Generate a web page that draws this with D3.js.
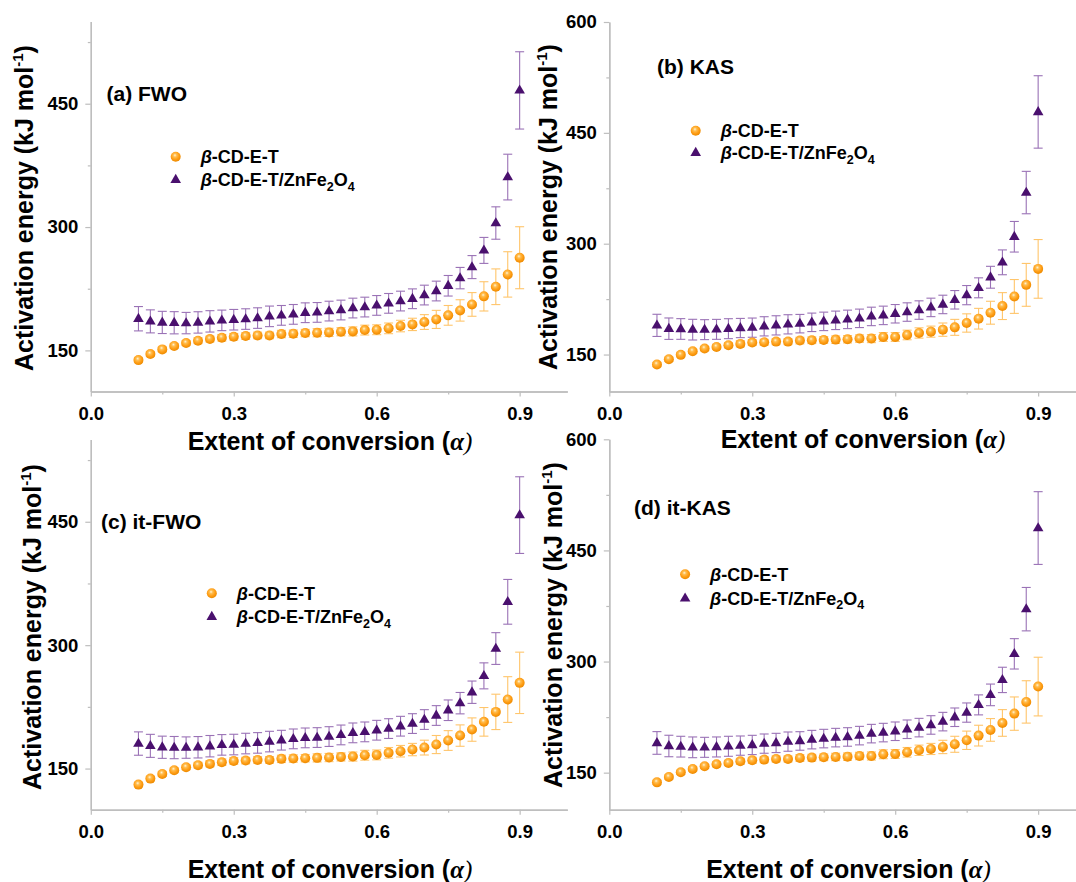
<!DOCTYPE html>
<html>
<head>
<meta charset="utf-8">
<script src="https://cdn.jsdelivr.net/npm/d3@7"></script>
<style>
  html, body { margin: 0; padding: 0; background: #fff; }
  svg { display: block; }
  text { font-family: "Liberation Sans", Arial, sans-serif; font-weight: bold; fill: #000; }
</style>
</head>
<body>
<svg id="chart" width="1076" height="882"></svg>
<script>
// ---------------- DATA ----------------
const alpha = [0.100,0.125,0.150,0.175,0.200,0.225,0.250,0.275,0.300,0.325,0.350,0.375,0.400,0.425,0.450,0.475,0.500,
               0.525,0.550,0.575,0.600,0.625,0.650,0.675,0.700,0.725,0.750,0.775,0.800,0.825,0.850,0.875,0.900];

const seriesNames = ["β-CD-E-T", "β-CD-E-T/ZnFe2O4"];
const panelLabels = ["(a) FWO", "(b) KAS", "(c) it-FWO", "(d) it-KAS"];
const xTicksMajor = [0.0, 0.3, 0.6, 0.9];
const xTicksMinor = [0.15, 0.45, 0.75];
const yTicksMajorAC = [150, 300, 450];
const yTicksMajorBD = [150, 300, 450, 600];
const yTicksMinor = [225, 375, 525];

// (a) FWO
const fwoCD    = [138.2,145.5,151.2,155.3,158.9,161.8,163.8,165.4,166.6,167.4,168.2,168.2,169.9,170.3,171.1,171.5,171.9,
                  172.7,173.1,174.7,175.1,176.8,179.6,181.6,184.5,187.7,192.6,198.6,205.9,215.7,227.4,242.4,262.7];
const fwoCDErr = [3,3,3,3,3,3.5,3.5,4,4,4,4,4,4.5,4.5,4.5,5,5,5,5.5,6,6,6.5,7,7.5,9,11,12,13,14.4,17.8,21.7,27.6,37.7];
const fwoZn    = [188.5,185.3,184.0,183.6,183.2,184.0,185.3,186.5,187.3,188.1,189.3,191.4,192.6,193.8,195.8,196.2,197.8,
                  199.1,201.5,202.7,204.7,207.2,210.0,212.8,217.3,222.2,228.6,237.9,251.3,271.6,304.9,360.8,466.2];
const fwoZnErr = [14.8,14,13.5,13.5,13,13,13,12.5,12.5,12.5,12.5,12.5,12,12,12,12,12,12,12,12,12,12,12,12,12,12,12.5,13,14,15.8,19.7,27.8,47];

// (b) KAS
const kasCD    = [136.5,143.7,149.6,154.5,158.1,160.3,162.6,164.4,166.2,166.6,167.5,167.5,168.9,169.3,169.8,170.2,170.7,
                  171.6,171.6,173.8,173.8,176.5,179.2,181.0,183.7,186.8,192.7,198.5,206.6,215.6,228.6,244.3,265.9];
const kasCDErr = [3,3,3,3,3,3.5,3.5,4,4,4,4,4,4.5,4.5,4.5,5,5,5,5.5,6,6,6.5,7,7.5,9,10.8,12.4,14,15.5,18.2,22.9,29,39.7];
const kasZn    = [189.5,185.0,184.6,183.7,183.7,184.1,185.0,185.9,186.4,188.2,189.5,190.9,191.8,193.6,194.9,196.3,197.6,
                  199.0,201.6,203.0,205.2,207.5,210.2,213.8,217.8,224.1,230.4,240.3,254.6,274.8,309.4,369.2,478.3];
const kasZnErr = [15,14.5,14,14,13.5,13.5,13.5,13,13,13,13,13,12.5,12.5,12.5,12.5,12.5,12.5,12.5,12.5,12.5,12.5,12.5,12.5,12.5,12.5,13,13.5,14.8,16.8,20.7,28.7,49];

// (c) it-FWO
const itfwoCD    = [130.5,137.8,143.5,148.0,151.6,154.1,155.7,157.7,159.3,159.7,160.5,160.5,161.8,162.2,162.6,163.0,163.4,
                    164.2,164.6,166.2,166.6,169.1,171.1,173.1,175.5,179.2,184.1,190.1,197.4,206.8,218.9,233.9,254.2];
const itfwoCDErr = [3,3,3,3,3,3.5,3.5,4,4,4,4,4,4.5,4.5,4.5,5,5,5,5.5,6,6,6.5,7,7.5,9,11,12,13,14.2,17.4,21.5,27.8,37.3];
const itfwoZn    = [180.4,177.6,175.9,175.5,175.5,175.9,177.2,178.8,179.2,180.4,181.2,182.8,184.5,186.1,187.3,187.7,188.9,
                    190.9,193.4,194.6,196.6,198.6,201.5,204.7,209.6,214.5,220.9,229.5,242.8,262.7,295.9,352.7,458.1];
const itfwoZnErr = [14.2,14,13.5,13.5,13,13,13,12.5,12.5,12.5,12.5,12.5,12,12,12,12,12,12,12,12,12,12,12,12,12,12,12.5,13,13.6,15.8,19.3,27.2,46.6];

// (d) it-KAS
const itkasCD    = [136.9,144.1,150.5,155.0,158.6,161.3,163.1,165.3,166.7,167.6,168.5,168.5,169.8,170.3,170.7,171.2,171.6,
                    172.5,172.5,174.8,175.2,177.5,180.2,182.0,184.7,188.3,193.7,200.0,207.7,217.1,229.7,245.5,266.2];
const itkasCDErr = [3,3,3,3,3,3.5,3.5,4,4,4,4,4,4.5,4.5,4.5,5,5,5,5.5,6,6,6.5,7,7.5,9,10.8,12.4,14,15.3,18,22.5,28.6,39.6];
const itkasZn    = [190.1,186.0,185.1,184.2,184.2,184.7,185.6,186.5,187.4,189.2,190.1,191.9,192.8,194.6,196.0,197.3,198.2,
                    200.0,202.7,204.1,205.9,208.6,210.8,214.4,218.9,224.8,231.1,241.5,255.0,275.2,310.4,370.7,480.2];
const itkasZnErr = [15.3,14.5,14,14,13.5,13.5,13.5,13,13,13,13,13,12.5,12.5,12.5,12.5,12.5,12.5,12.5,12.5,12.5,12.5,12.5,12.5,12.5,12.5,13,13.5,14.6,17.1,20.5,29.3,49.1];

// ---------------- LAYOUT ----------------
const COL = { orange: "#FFA11E", orangeErr: "#FFC56B", purple: "#4A106E", purpleErr: "#9A72B6", axis: "#BEBEBE" };

const panels = [
  { label: panelLabels[0], cd: fwoCD, cdErr: fwoCDErr, zn: fwoZn, znErr: fwoZnErr, yMax: 550, yMajor: yTicksMajorAC,
    x0: 90.8, yTop: 21.5, yBot: 391.5, lab: [106.5, 101], leg: [175.7, 156.7, 23], ytX: 33.3, ytY: 208, xtX: 330, xtY: 449.5 },
  { label: panelLabels[1], cd: kasCD, cdErr: kasCDErr, zn: kasZn, znErr: kasZnErr, yMax: 600, yMajor: yTicksMajorBD,
    x0: 609.3, yTop: 22, yBot: 391.5, lab: [657, 74], leg: [695.7, 130.7, 22], ytX: 557.3, ytY: 207, xtX: 863, xtY: 448 },
  { label: panelLabels[2], cd: itfwoCD, cdErr: itfwoCDErr, zn: itfwoZn, znErr: itfwoZnErr, yMax: 550, yMajor: yTicksMajorAC,
    x0: 90.8, yTop: 439.5, yBot: 809.7, lab: [101, 529], leg: [211.8, 593.3, 23.4], ytX: 40.6, ytY: 627, xtX: 330, xtY: 878 },
  { label: panelLabels[3], cd: itkasCD, cdErr: itkasCDErr, zn: itkasZn, znErr: itkasZnErr, yMax: 600, yMajor: yTicksMajorBD,
    x0: 609.3, yTop: 439.3, yBot: 809.7, lab: [634, 515], leg: [685.1, 574.3, 24], ytX: 561.8, ytY: 625, xtX: 848.5, xtY: 877.5 }
];

const svg = d3.select("#chart");
const defs = svg.append("defs");
const grad = defs.append("radialGradient").attr("id", "sphere")
  .attr("cx", "45%").attr("cy", "40%").attr("r", "60%").attr("fx", "42%").attr("fy", "35%");
grad.append("stop").attr("offset", "0%").attr("stop-color", "#FFF3D8");
grad.append("stop").attr("offset", "28%").attr("stop-color", "#FFBE50");
grad.append("stop").attr("offset", "65%").attr("stop-color", "#FF9E16");
grad.append("stop").attr("offset", "100%").attr("stop-color", "#EC8A00");

const triPath = "M0,-5.9L5.3,3.2L-5.3,3.2Z";
const R = 5;
const CAP = 4.5;

panels.forEach(p => {
  const x = d3.scaleLinear().domain([0, 1]).range([p.x0, p.x0 + 476.5]);
  const y = d3.scaleLinear().domain([100, p.yMax]).range([p.yBot, p.yTop]);
  const g = svg.append("g");

  // x axis (minor, then major)
  const gxm = g.append("g").attr("transform", `translate(0,${p.yBot})`)
    .call(d3.axisBottom(x).tickValues(xTicksMinor).tickSize(3).tickSizeOuter(0).tickFormat(""));
  const gx = g.append("g").attr("transform", `translate(0,${p.yBot})`)
    .call(d3.axisBottom(x).tickValues(xTicksMajor).tickSize(5).tickSizeOuter(0).tickPadding(10)
      .tickFormat(d3.format(".1f")));
  // y axis
  const gym = g.append("g").attr("transform", `translate(${p.x0},0)`)
    .call(d3.axisLeft(y).tickValues(yTicksMinor).tickSize(3).tickSizeOuter(0).tickFormat(""));
  const gy = g.append("g").attr("transform", `translate(${p.x0},0)`)
    .call(d3.axisLeft(y).tickValues(p.yMajor).tickSize(5.5).tickSizeOuter(0).tickPadding(7).tickFormat(d3.format("d")));

  [gxm, gx, gym, gy].forEach(a => {
    a.selectAll(".domain").attr("stroke", COL.axis).attr("stroke-width", 1.4);
    a.selectAll(".tick line").attr("stroke", COL.axis).attr("stroke-width", 1.2);
    a.selectAll("text").style("font-family", '"Liberation Sans", Arial, sans-serif')
      .style("font-weight", "bold").style("font-size", "18.5px").attr("fill", "#000");
  });

  // error bars
  const drawErr = (vals, errs, color) => {
    const eg = g.append("g").attr("stroke", color).attr("stroke-width", 1.1).attr("fill", "none");
    alpha.forEach((a, i) => {
      const cx = x(a), yt = y(vals[i] + errs[i]), yb = y(vals[i] - errs[i]);
      eg.append("line").attr("x1", cx).attr("x2", cx).attr("y1", yt).attr("y2", yb);
      eg.append("line").attr("x1", cx - CAP).attr("x2", cx + CAP).attr("y1", yt).attr("y2", yt);
      eg.append("line").attr("x1", cx - CAP).attr("x2", cx + CAP).attr("y1", yb).attr("y2", yb);
    });
  };
  drawErr(p.cd, p.cdErr, COL.orangeErr);
  drawErr(p.zn, p.znErr, COL.purpleErr);

  // markers
  g.append("g").selectAll("path").data(alpha).join("path")
    .attr("d", triPath).attr("fill", COL.purple)
    .attr("transform", (a, i) => `translate(${x(a)},${y(p.zn[i])})`);
  g.append("g").selectAll("circle").data(alpha).join("circle")
    .attr("cx", a => x(a)).attr("cy", (a, i) => y(p.cd[i])).attr("r", R)
    .attr("fill", "url(#sphere)");

  // panel label
  g.append("text").attr("x", p.lab[0]).attr("y", p.lab[1]).style("font-size", "21px").text(p.label);

  // legend
  const [lx, ly, ld] = p.leg;
  g.append("circle").attr("cx", lx).attr("cy", ly).attr("r", R).attr("fill", "url(#sphere)");
  g.append("path").attr("d", triPath).attr("fill", COL.purple).attr("transform", `translate(${lx},${ly + ld})`);
  const t1 = g.append("text").attr("x", lx + 25).attr("y", ly + 6.5).style("font-size", "18px");
  t1.append("tspan").style("font-style", "italic").text("β");
  t1.append("tspan").text("-CD-E-T");
  const t2 = g.append("text").attr("x", lx + 25).attr("y", ly + ld + 6.5).style("font-size", "18px");
  t2.append("tspan").style("font-style", "italic").text("β");
  t2.append("tspan").text("-CD-E-T/ZnFe");
  t2.append("tspan").attr("dy", 4.5).style("font-size", "12.5px").text("2");
  t2.append("tspan").attr("dy", -4.5).text("O");
  t2.append("tspan").attr("dy", 4.5).style("font-size", "12.5px").text("4");

  // y title
  const yt = g.append("text").attr("transform", `translate(${p.ytX},${p.ytY}) rotate(-90)`)
    .attr("text-anchor", "middle").style("font-size", "25px");
  yt.append("tspan").text("Activation energy (kJ mol");
  yt.append("tspan").attr("dy", -10).style("font-size", "15px").text("-1");
  yt.append("tspan").attr("dy", 10).text(")");

  // x title
  const xt = g.append("text").attr("x", p.xtX).attr("y", p.xtY).attr("text-anchor", "middle").style("font-size", "25px");
  xt.append("tspan").text("Extent of conversion (");
  xt.append("tspan").style("font-family", '"Liberation Serif", "Times New Roman", serif').style("font-style", "italic").text("α");
  xt.append("tspan").style("font-family", '"Liberation Serif", "Times New Roman", serif').style("font-style", "italic").style("font-weight", "normal").text(")");
});
</script>
</body>
</html>
